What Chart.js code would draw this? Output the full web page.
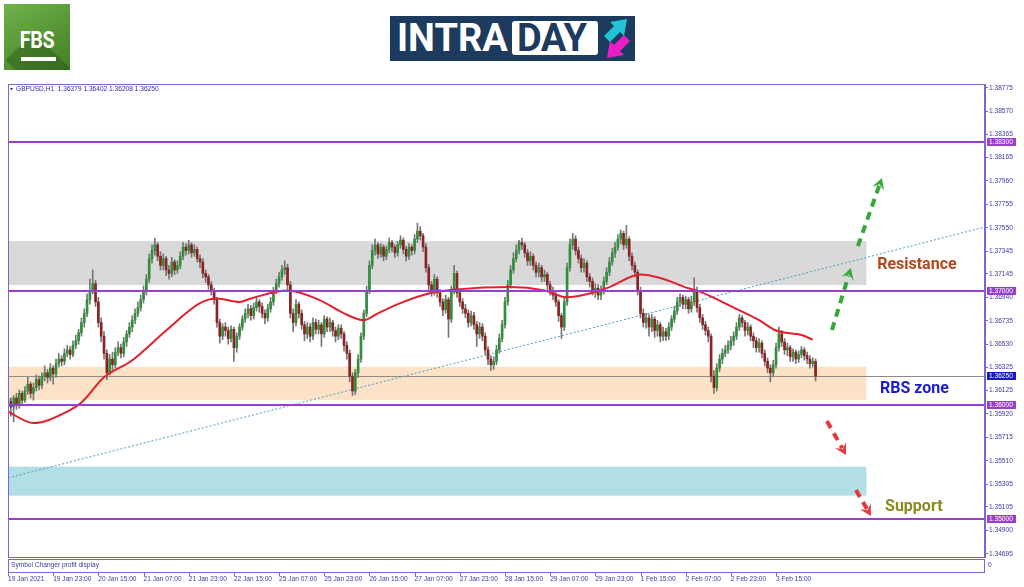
<!DOCTYPE html>
<html><head><meta charset="utf-8">
<script src="https://cdn.jsdelivr.net/npm/chart.js@4.4.1/dist/chart.umd.min.js"></script>
<style>
html,body{margin:0;padding:0;background:#fff;}
#wrap{position:relative;width:1024px;height:587px;overflow:hidden;background:#fff;}
#c{position:absolute;left:0;top:0;}
.fbs{position:absolute;left:4px;top:4px;width:66px;height:66px;background:linear-gradient(150deg,#72b24b 0%,#5a9a38 45%,#43802a 100%);overflow:hidden;}
.fbs .sh{position:absolute;left:30px;top:28px;width:80px;height:40px;background:rgba(30,70,15,0.35);transform:rotate(45deg);transform-origin:0 0;}
.fbs .t{position:absolute;left:0;width:66px;top:22px;text-align:center;color:#fff;font:bold 24px "Roboto","Liberation Sans",sans-serif;letter-spacing:-0.5px;transform:scaleX(0.82);}
.fbs .u{position:absolute;left:17px;top:53px;width:35px;height:4px;background:#fff;}
.intra{position:absolute;left:390px;top:16px;width:245px;height:45px;background:#1d3a5f;}
.intra .a{position:absolute;left:7px;top:0;height:45px;line-height:45px;color:#fff;font:bold 38px "Roboto","Liberation Sans",sans-serif;letter-spacing:0px;}
.intra .b{position:absolute;left:122px;top:5px;width:86px;height:34px;background:#fff;border-radius:3px;}
.intra .b span{position:absolute;left:5px;top:-5px;height:45px;line-height:45px;color:#1d3a5f;font:bold 38px "Roboto","Liberation Sans",sans-serif;letter-spacing:-0.5px;}
.intra svg{position:absolute;left:210px;top:0;}
</style></head>
<body>
<div id="wrap">
<canvas id="c" width="1024" height="587"></canvas>
<div class="fbs"><div class="sh"></div><div class="t">FBS</div><div class="u"></div></div>
<div class="intra"><span class="a">INTRA</span><div class="b"><span>DAY</span></div>
<svg width="35" height="45" viewBox="0 0 35 45">
<polygon points="4,20 14,10 10,6 27,3 24,20 20,16 10,26" fill="#22c3d6"/>
<polygon points="30,25 20,35 24,39 7,42 10,25 14,29 24,19" fill="#ea1fc8"/>
</svg></div>
</div>
<script>
// ---------------- DATA ----------------
const xTickBars = [0,16,32,48,64,80,96,112,128,144,160,176,192,208,224,240,256,272];
const xTickLabels = ['19 Jan 2021','19 Jan 23:00','20 Jan 15:00','21 Jan 07:00','21 Jan 23:00','22 Jan 15:00','25 Jan 07:00','25 Jan 23:00','26 Jan 15:00','27 Jan 07:00','27 Jan 23:00','28 Jan 15:00','29 Jan 07:00','29 Jan 23:00','1 Feb 15:00','2 Feb 07:00','2 Feb 23:00','3 Feb 15:00'];
const yTickValues = [1.38775,1.38570,1.38365,1.38165,1.37960,1.37755,1.37550,1.37345,1.37145,1.36940,1.36735,1.36530,1.36325,1.36125,1.35920,1.35715,1.35510,1.35305,1.35105,1.34900,1.34695];

const openP = [1.3605,1.3603,1.3598,1.3606,1.3600,1.3610,1.3604,1.3612,1.3618,1.3610,
1.3615,1.3622,1.3617,1.3625,1.3628,1.3624,1.3632,1.3627,1.3636,1.3640,
1.3638,1.3645,1.3648,1.3644,1.3652,1.3656,1.3663,1.3672,1.3680,1.3692,
1.3700,1.3706,1.3690,1.3672,1.3660,1.3645,1.3628,1.3640,1.3635,1.3646,
1.3650,1.3645,1.3655,1.3662,1.3668,1.3674,1.3680,1.3685,1.3692,1.3700,
1.3710,1.3728,1.3735,1.3740,1.3730,1.3722,1.3728,1.3718,1.3715,1.3725,
1.3718,1.3722,1.3730,1.3738,1.3735,1.3740,1.3733,1.3736,1.3728,1.3725,
1.3715,1.3712,1.3705,1.3700,1.3692,1.3672,1.3660,1.3668,1.3665,1.3658,
1.3666,1.3650,1.3660,1.3668,1.3675,1.3680,1.3684,1.3678,1.3685,1.3690,
1.3686,1.3680,1.3676,1.3684,1.3690,1.3700,1.3706,1.3712,1.3718,1.3720,
1.3705,1.3680,1.3672,1.3688,1.3680,1.3670,1.3662,1.3668,1.3660,1.3672,
1.3666,1.3670,1.3662,1.3675,1.3668,1.3672,1.3665,1.3660,1.3667,1.3662,
1.3652,1.3645,1.3625,1.3612,1.3628,1.3640,1.3660,1.3680,1.3700,1.3722,
1.3735,1.3740,1.3732,1.3738,1.3730,1.3736,1.3742,1.3738,1.3733,1.3740,
1.3744,1.3736,1.3730,1.3738,1.3735,1.3745,1.3752,1.3748,1.3738,1.3720,
1.3705,1.3700,1.3710,1.3698,1.3690,1.3683,1.3692,1.3675,1.3700,1.3715,
1.3698,1.3690,1.3684,1.3680,1.3672,1.3678,1.3670,1.3662,1.3668,1.3660,
1.3648,1.3640,1.3635,1.3638,1.3648,1.3658,1.3670,1.3690,1.3705,1.3718,
1.3728,1.3735,1.3742,1.3740,1.3733,1.3726,1.3730,1.3722,1.3716,1.3720,
1.3712,1.3714,1.3705,1.3700,1.3696,1.3690,1.3678,1.3668,1.3690,1.3720,
1.3740,1.3745,1.3735,1.3728,1.3720,1.3724,1.3712,1.3708,1.3700,1.3702,
1.3696,1.3700,1.3708,1.3716,1.3725,1.3733,1.3738,1.3745,1.3750,1.3740,
1.3745,1.3730,1.3722,1.3716,1.3700,1.3680,1.3672,1.3676,1.3668,1.3675,
1.3665,1.3670,1.3660,1.3664,1.3660,1.3668,1.3675,1.3682,1.3690,1.3694,
1.3688,1.3692,1.3684,1.3690,1.3700,1.3685,1.3676,1.3670,1.3665,1.3660,
1.3625,1.3615,1.3632,1.3640,1.3645,1.3648,1.3652,1.3656,1.3660,1.3668,
1.3676,1.3672,1.3665,1.3668,1.3660,1.3656,1.3650,1.3654,1.3645,1.3638,
1.3632,1.3628,1.3635,1.3650,1.3662,1.3655,1.3648,1.3650,1.3642,1.3646,
1.3640,1.3644,1.3648,1.3643,1.3640,1.3636,1.36379];

const highP = [1.3609,1.3606,1.3608,1.3610,1.3613,1.3612,1.3616,1.3624,1.3620,1.3619,
1.3626,1.3625,1.3628,1.3634,1.3631,1.3636,1.3634,1.3640,1.3645,1.3643,
1.3649,1.3652,1.3651,1.3656,1.3661,1.3666,1.3676,1.3684,1.3697,1.3710,
1.3718,1.3709,1.3694,1.3676,1.3664,1.3648,1.3644,1.3646,1.3650,1.3655,
1.3653,1.3659,1.3665,1.3672,1.3678,1.3684,1.3690,1.3696,1.3704,1.3714,
1.3732,1.3740,1.3746,1.3742,1.3734,1.3732,1.3730,1.3722,1.3729,1.3727,
1.3726,1.3734,1.3742,1.3741,1.3744,1.3742,1.3740,1.3738,1.3731,1.3728,
1.3718,1.3714,1.3708,1.3702,1.3694,1.3675,1.3671,1.3672,1.3668,1.3669,
1.3668,1.3663,1.3671,1.3678,1.3684,1.3688,1.3687,1.3689,1.3694,1.3692,
1.3689,1.3683,1.3688,1.3694,1.3703,1.3710,1.3716,1.3722,1.3726,1.3723,
1.3708,1.3684,1.3692,1.3690,1.3683,1.3673,1.3672,1.3671,1.3676,1.3675,
1.3674,1.3672,1.3678,1.3677,1.3676,1.3674,1.3668,1.3670,1.3670,1.3664,
1.3655,1.3648,1.3628,1.3631,1.3644,1.3663,1.3683,1.3704,1.3726,1.3740,
1.3745,1.3742,1.3741,1.3740,1.3739,1.3746,1.3744,1.3740,1.3743,1.3748,
1.3746,1.3739,1.3741,1.3740,1.3749,1.3759,1.3756,1.3750,1.3741,1.3723,
1.3708,1.3714,1.3712,1.3701,1.3693,1.3696,1.3694,1.3704,1.3722,1.3717,
1.3701,1.3693,1.3688,1.3683,1.3682,1.3681,1.3673,1.3672,1.3671,1.3663,
1.3651,1.3643,1.3642,1.3652,1.3662,1.3674,1.3694,1.3709,1.3722,1.3733,
1.3740,1.3744,1.3746,1.3742,1.3736,1.3734,1.3732,1.3725,1.3724,1.3722,
1.3718,1.3716,1.3708,1.3703,1.3699,1.3692,1.3680,1.3694,1.3724,1.3745,
1.3750,1.3748,1.3738,1.3731,1.3728,1.3726,1.3715,1.3711,1.3706,1.3705,
1.3704,1.3712,1.3720,1.3729,1.3737,1.3742,1.3749,1.3753,1.3752,1.3757,
1.3747,1.3733,1.3725,1.3718,1.3703,1.3684,1.3680,1.3679,1.3679,1.3677,
1.3674,1.3672,1.3668,1.3667,1.3672,1.3678,1.3686,1.3694,1.3697,1.3696,
1.3695,1.3694,1.3695,1.3711,1.3703,1.3688,1.3679,1.3673,1.3668,1.3662,
1.3630,1.3636,1.3644,1.3649,1.3652,1.3656,1.3660,1.3664,1.3672,1.3679,
1.3678,1.3674,1.3672,1.3670,1.3663,1.3659,1.3658,1.3656,1.3648,1.3641,
1.3635,1.3639,1.3654,1.3668,1.3665,1.3658,1.3654,1.3652,1.3649,1.3648,
1.3647,1.3651,1.3650,1.3646,1.3643,1.3641,1.36402];

const lowP = [1.3598,1.3590,1.3585,1.3596,1.3597,1.3601,1.3602,1.3609,1.3606,1.3604,
1.3612,1.3613,1.3614,1.3621,1.3619,1.3621,1.3618,1.3624,1.3633,1.3634,
1.3635,1.3642,1.3640,1.3642,1.3649,1.3653,1.3660,1.3668,1.3677,1.3688,
1.3697,1.3686,1.3668,1.3655,1.3640,1.3622,1.3626,1.3630,1.3632,1.3643,
1.3641,1.3642,1.3651,1.3659,1.3664,1.3671,1.3677,1.3682,1.3689,1.3696,
1.3707,1.3724,1.3731,1.3726,1.3718,1.3718,1.3713,1.3710,1.3712,1.3714,
1.3715,1.3719,1.3727,1.3731,1.3732,1.3729,1.3730,1.3725,1.3720,1.3711,
1.3707,1.3701,1.3696,1.3688,1.3668,1.3654,1.3657,1.3660,1.3653,1.3655,
1.3638,1.3646,1.3657,1.3665,1.3672,1.3676,1.3674,1.3675,1.3682,1.3681,
1.3676,1.3671,1.3673,1.3681,1.3687,1.3697,1.3703,1.3709,1.3714,1.3701,
1.3676,1.3664,1.3669,1.3676,1.3666,1.3656,1.3658,1.3655,1.3657,1.3662,
1.3662,1.3651,1.3659,1.3664,1.3664,1.3660,1.3655,1.3657,1.3658,1.3647,
1.3640,1.3620,1.3608,1.3609,1.3624,1.3637,1.3657,1.3677,1.3697,1.3719,
1.3731,1.3728,1.3729,1.3726,1.3727,1.3733,1.3734,1.3729,1.3730,1.3737,
1.3732,1.3726,1.3727,1.3731,1.3732,1.3742,1.3744,1.3734,1.3716,1.3700,
1.3695,1.3696,1.3694,1.3686,1.3678,1.3680,1.3659,1.3672,1.3697,1.3694,
1.3686,1.3680,1.3676,1.3668,1.3669,1.3666,1.3651,1.3658,1.3656,1.3644,
1.3635,1.3630,1.3631,1.3635,1.3645,1.3655,1.3667,1.3687,1.3702,1.3715,
1.3725,1.3732,1.3736,1.3729,1.3722,1.3722,1.3718,1.3712,1.3712,1.3708,
1.3708,1.3701,1.3696,1.3692,1.3686,1.3673,1.3658,1.3665,1.3687,1.3717,
1.3736,1.3731,1.3724,1.3716,1.3716,1.3708,1.3703,1.3696,1.3694,1.3692,
1.3692,1.3697,1.3705,1.3713,1.3722,1.3729,1.3735,1.3741,1.3736,1.3737,
1.3726,1.3718,1.3712,1.3696,1.3676,1.3668,1.3667,1.3660,1.3664,1.3659,
1.3660,1.3655,1.3656,1.3656,1.3657,1.3665,1.3672,1.3679,1.3686,1.3684,
1.3684,1.3680,1.3681,1.3687,1.3681,1.3672,1.3666,1.3661,1.3655,1.3620,
1.3610,1.3612,1.3629,1.3636,1.3642,1.3645,1.3648,1.3652,1.3657,1.3665,
1.3668,1.3660,1.3661,1.3656,1.3650,1.3646,1.3646,1.3641,1.3634,1.3628,
1.3620,1.3625,1.3632,1.3647,1.3651,1.3644,1.3643,1.3638,1.3638,1.3636,
1.3637,1.3641,1.3639,1.3636,1.3632,1.3633,1.36208];

const closeP = [1.3603,1.3598,1.3606,1.3600,1.3610,1.3604,1.3612,1.3618,1.3610,1.3615,
1.3622,1.3617,1.3625,1.3628,1.3624,1.3632,1.3627,1.3636,1.3640,1.3638,
1.3645,1.3648,1.3644,1.3652,1.3656,1.3663,1.3672,1.3680,1.3692,1.3700,
1.3706,1.3690,1.3672,1.3660,1.3645,1.3628,1.3640,1.3635,1.3646,1.3650,
1.3645,1.3655,1.3662,1.3668,1.3674,1.3680,1.3685,1.3692,1.3700,1.3710,
1.3728,1.3735,1.3740,1.3730,1.3722,1.3728,1.3718,1.3715,1.3725,1.3718,
1.3722,1.3730,1.3738,1.3735,1.3740,1.3733,1.3736,1.3728,1.3725,1.3715,
1.3712,1.3705,1.3700,1.3692,1.3672,1.3660,1.3668,1.3665,1.3658,1.3666,
1.3650,1.3660,1.3668,1.3675,1.3680,1.3684,1.3678,1.3685,1.3690,1.3686,
1.3680,1.3676,1.3684,1.3690,1.3700,1.3706,1.3712,1.3718,1.3720,1.3705,
1.3680,1.3672,1.3688,1.3680,1.3670,1.3662,1.3668,1.3660,1.3672,1.3666,
1.3670,1.3662,1.3675,1.3668,1.3672,1.3665,1.3660,1.3667,1.3662,1.3652,
1.3645,1.3625,1.3612,1.3628,1.3640,1.3660,1.3680,1.3700,1.3722,1.3735,
1.3740,1.3732,1.3738,1.3730,1.3736,1.3742,1.3738,1.3733,1.3740,1.3744,
1.3736,1.3730,1.3738,1.3735,1.3745,1.3752,1.3748,1.3738,1.3720,1.3705,
1.3700,1.3710,1.3698,1.3690,1.3683,1.3692,1.3675,1.3700,1.3715,1.3698,
1.3690,1.3684,1.3680,1.3672,1.3678,1.3670,1.3662,1.3668,1.3660,1.3648,
1.3640,1.3635,1.3638,1.3648,1.3658,1.3670,1.3690,1.3705,1.3718,1.3728,
1.3735,1.3742,1.3740,1.3733,1.3726,1.3730,1.3722,1.3716,1.3720,1.3712,
1.3714,1.3705,1.3700,1.3696,1.3690,1.3678,1.3668,1.3690,1.3720,1.3740,
1.3745,1.3735,1.3728,1.3720,1.3724,1.3712,1.3708,1.3700,1.3702,1.3696,
1.3700,1.3708,1.3716,1.3725,1.3733,1.3738,1.3745,1.3750,1.3740,1.3745,
1.3730,1.3722,1.3716,1.3700,1.3680,1.3672,1.3676,1.3668,1.3675,1.3665,
1.3670,1.3660,1.3664,1.3660,1.3668,1.3675,1.3682,1.3690,1.3694,1.3688,
1.3692,1.3684,1.3690,1.3700,1.3685,1.3676,1.3670,1.3665,1.3660,1.3625,
1.3615,1.3632,1.3640,1.3645,1.3648,1.3652,1.3656,1.3660,1.3668,1.3676,
1.3672,1.3665,1.3668,1.3660,1.3656,1.3650,1.3654,1.3645,1.3638,1.3632,
1.3628,1.3635,1.3650,1.3662,1.3655,1.3648,1.3650,1.3642,1.3646,1.3640,
1.3644,1.3648,1.3643,1.3640,1.3636,1.3638,1.36250];

// red moving average: [bar, price]
const maBars   = [0,9,21,26,34,44,56,68,74,82,86,99,110,119,126,131,139,150,159,178,190,198,207,213,224,231,241,245,257,266,272,281,285];
const maValues = [1.3594,1.3584,1.3594,1.3602,1.3624,1.3639,1.3665,1.3689,1.3693,1.3690,1.3693,1.3700,1.3692,1.3680,1.3674,1.3680,1.3689,1.3698,1.3701,1.3703,1.3700,1.3694,1.3698,1.3703,1.3714,1.3711,1.3702,1.3699,1.3685,1.3674,1.3665,1.3661,1.3657];

// dotted trend line: [bar, price]
const trendBars = [0, 346];
const trendValues = [1.35359, 1.37556];

const levelLines = [1.38300, 1.37000, 1.36000, 1.35000];
const lastPrice = 1.36250;

const zoneNames = ['resistance','rbs','support'];
const zoneLow  = [1.37048, 1.36042, 1.35204];
const zoneHigh = [1.37433, 1.36333, 1.35458];
const zoneEndBar = 304;

const noteTexts  = ['Resistance','RBS zone','Support'];
const noteBars   = [307.8, 308.8, 310.6];
const notePrices = [1.37223, 1.36138, 1.35105];

// dashed arrows: start/end in [bar, price]
const arrowFromBar = [301.0, 291.8, 290.0, 300.3];
const arrowFromPrice = [1.37389, 1.36654, 1.35858, 1.35254];
const arrowToBar = [309.5, 298.5, 296.8, 305.6];
const arrowToPrice = [1.37985, 1.37197, 1.35560, 1.35026];

// ---------------- STYLE ----------------
const FRAME = '#7468d6';
const AXISTXT = '#3b3ba0';
const LEVEL = '#9a3fcc';
const BULL = '#2f8f3a', BEAR = '#8a2222', WICK = '#767676';
const zoneColors = ['#d9d9d9','#fce3c8','#b2dfe5'];
const noteColors = ['#b4461c','#1a1ad2','#8a8a1e'];
const arrowColors = ['#34a83a','#34a83a','#e8363c','#e8363c'];
const SMALL = '6.6px "Liberation Sans", Arial, sans-serif';

const bars = closeP.map((c, i) => i);
const wickData = bars.map(i => ({x: i, y: [lowP[i], highP[i]]}));
const bodyData = bars.map(i => ({x: i, y: [openP[i], closeP[i]]}));
const bodyColors = bars.map(i => closeP[i] >= openP[i] ? BULL : BEAR);

function drawArrow(ctx, x0, y0, x1, y1, color) {
  const ang = Math.atan2(y1 - y0, x1 - x0);
  const L = 13;
  const bx = x1 - Math.cos(ang) * L * 0.6, by = y1 - Math.sin(ang) * L * 0.6;
  ctx.save();
  ctx.strokeStyle = color; ctx.lineWidth = 4; ctx.setLineDash([8, 6]); ctx.lineCap = 'butt';
  ctx.beginPath(); ctx.moveTo(x0, y0); ctx.lineTo(bx, by); ctx.stroke();
  ctx.setLineDash([]);
  ctx.fillStyle = color; ctx.beginPath();
  ctx.moveTo(x1, y1);
  ctx.lineTo(x1 - L * Math.cos(ang - 0.5), y1 - L * Math.sin(ang - 0.5));
  ctx.lineTo(x1 - L * 0.5 * Math.cos(ang), y1 - L * 0.5 * Math.sin(ang));
  ctx.lineTo(x1 - L * Math.cos(ang + 0.5), y1 - L * Math.sin(ang + 0.5));
  ctx.closePath(); ctx.fill();
  ctx.restore();
}

function priceBox(ctx, y, val, bg) {
  const py = Math.round(y.getPixelForValue(val));
  ctx.fillStyle = bg;
  ctx.fillRect(987, py - 4, 29, 8);
  ctx.fillStyle = '#ffffff';
  ctx.font = SMALL; ctx.textBaseline = 'middle'; ctx.textAlign = 'left';
  ctx.fillText(val.toFixed(5), 989, py + 0.5);
}

const mt4 = {
  id: 'mt4',
  beforeDatasetsDraw(chart) {
    const {ctx, chartArea: a, scales: {x, y}} = chart;
    ctx.save();
    ctx.beginPath(); ctx.rect(a.left, a.top, a.right - a.left, a.bottom - a.top); ctx.clip();
    zoneNames.forEach((n, k) => {
      const x0 = a.left, x1 = x.getPixelForValue(zoneEndBar);
      const y0 = y.getPixelForValue(zoneHigh[k]), y1 = y.getPixelForValue(zoneLow[k]);
      ctx.fillStyle = zoneColors[k];
      ctx.fillRect(x0, y0, x1 - x0, y1 - y0);
    });
    const lp = Math.round(y.getPixelForValue(lastPrice)) + 0.5;
    ctx.strokeStyle = '#8f8a86'; ctx.lineWidth = 1;
    ctx.beginPath(); ctx.moveTo(a.left, lp); ctx.lineTo(a.right, lp); ctx.stroke();
    ctx.restore();
  },
  afterDatasetsDraw(chart) {
    const {ctx, chartArea: a, scales: {x, y}} = chart;
    ctx.save();
    ctx.beginPath(); ctx.rect(a.left, a.top, a.right - a.left, a.bottom - a.top); ctx.clip();
    levelLines.forEach(v => {
      const py = Math.round(y.getPixelForValue(v));
      ctx.fillStyle = LEVEL;
      ctx.fillRect(a.left, py - 1, a.right - a.left, 2);
    });
    arrowFromBar.forEach((b, k) => {
      drawArrow(ctx, x.getPixelForValue(b), y.getPixelForValue(arrowFromPrice[k]),
        x.getPixelForValue(arrowToBar[k]), y.getPixelForValue(arrowToPrice[k]), arrowColors[k]);
    });
    ctx.font = 'bold 16px Roboto, "Liberation Sans", sans-serif';
    ctx.textBaseline = 'middle'; ctx.textAlign = 'left';
    noteTexts.forEach((t, k) => {
      ctx.fillStyle = noteColors[k];
      ctx.fillText(t, x.getPixelForValue(noteBars[k]), y.getPixelForValue(notePrices[k]));
    });
    // header
    ctx.fillStyle = '#2c2c9c';
    ctx.beginPath(); ctx.moveTo(10, 88); ctx.lineTo(13, 88); ctx.lineTo(11.5, 90.5); ctx.closePath(); ctx.fill();
    ctx.font = SMALL; ctx.textBaseline = 'middle';
    ctx.fillText('GBPUSD,H1  1.36379 1.36402 1.36208 1.36250', 16, 89);
    ctx.restore();
  },
  afterDraw(chart) {
    const {ctx, chartArea: a, scales: {x, y}} = chart;
    ctx.save();
    ctx.strokeStyle = FRAME; ctx.lineWidth = 1;
    ctx.strokeRect(a.left + 0.5, a.top + 0.5, a.right - a.left - 1, a.bottom - a.top);
    // sub window
    ctx.strokeRect(a.left + 0.5, a.bottom + 2.5, a.right - a.left - 1, 13);
    ctx.fillStyle = AXISTXT; ctx.font = SMALL; ctx.textBaseline = 'middle'; ctx.textAlign = 'left';
    ctx.fillText('Symbol Changer profit display', 11, a.bottom + 8);
    ctx.fillText('0', 988, a.bottom + 8);
    // x tick marks
    ctx.strokeStyle = FRAME;
    xTickBars.forEach(b => {
      const px = Math.round(x.getPixelForValue(b)) + 0.5;
      ctx.beginPath(); ctx.moveTo(px, a.bottom + 15.5); ctx.lineTo(px, a.bottom + 19); ctx.stroke();
    });
    levelLines.forEach(v => priceBox(ctx, y, v, LEVEL));
    priceBox(ctx, y, lastPrice, '#1616c4');
    ctx.restore();
  }
};

new Chart(document.getElementById('c'), {
  type: 'bar',
  data: {
    datasets: [
      {type: 'line', data: trendBars.map((b, k) => ({x: b, y: trendValues[k]})), borderColor: '#4f9cc0', borderWidth: 1, borderDash: [2, 2], pointRadius: 0, order: 3},
      {data: wickData, backgroundColor: WICK, barThickness: 1, grouped: false, order: 2},
      {data: bodyData, backgroundColor: bodyColors, barThickness: 2, minBarLength: 1, grouped: false, order: 1},
      {type: 'line', data: maBars.map((b, k) => ({x: b, y: maValues[k]})), borderColor: '#e3212b', borderWidth: 2, pointRadius: 0, cubicInterpolationMode: 'monotone', order: 0}
    ]
  },
  plugins: [mt4],
  options: {
    responsive: false, animation: false, devicePixelRatio: 1,
    layout: {padding: {left: 8, top: 84, right: 0, bottom: 0}},
    plugins: {legend: {display: false}, tooltip: {enabled: false}},
    scales: {
      x: {
        type: 'linear', min: 0, max: 346, offset: false, position: 'bottom',
        grid: {display: false, drawTicks: false}, border: {display: false},
        afterBuildTicks: s => { s.ticks = xTickBars.map(v => ({value: v})); },
        afterFit: s => { s.height = 30; s.paddingLeft = 0; s.paddingRight = 0; },
        ticks: {
          autoSkip: false, maxRotation: 0, align: 'start', padding: 18, color: AXISTXT,
          font: {family: '"Liberation Sans", Arial, sans-serif', size: 6.6},
          callback: (v, i) => xTickLabels[i]
        }
      },
      y: {
        type: 'linear', position: 'right', min: 1.34667, max: 1.38808,
        grid: {drawOnChartArea: false, drawTicks: true, tickLength: 3, color: FRAME},
        border: {display: true, color: FRAME},
        afterBuildTicks: s => { s.ticks = yTickValues.map(v => ({value: v})); },
        afterFit: s => { s.width = 39; s.paddingTop = 0; s.paddingBottom = 0; },
        ticks: {
          padding: 1, color: AXISTXT, font: {family: '"Liberation Sans", Arial, sans-serif', size: 6.6},
          callback: v => Number(v).toFixed(5)
        }
      }
    }
  }
});
</script>
</body></html>
